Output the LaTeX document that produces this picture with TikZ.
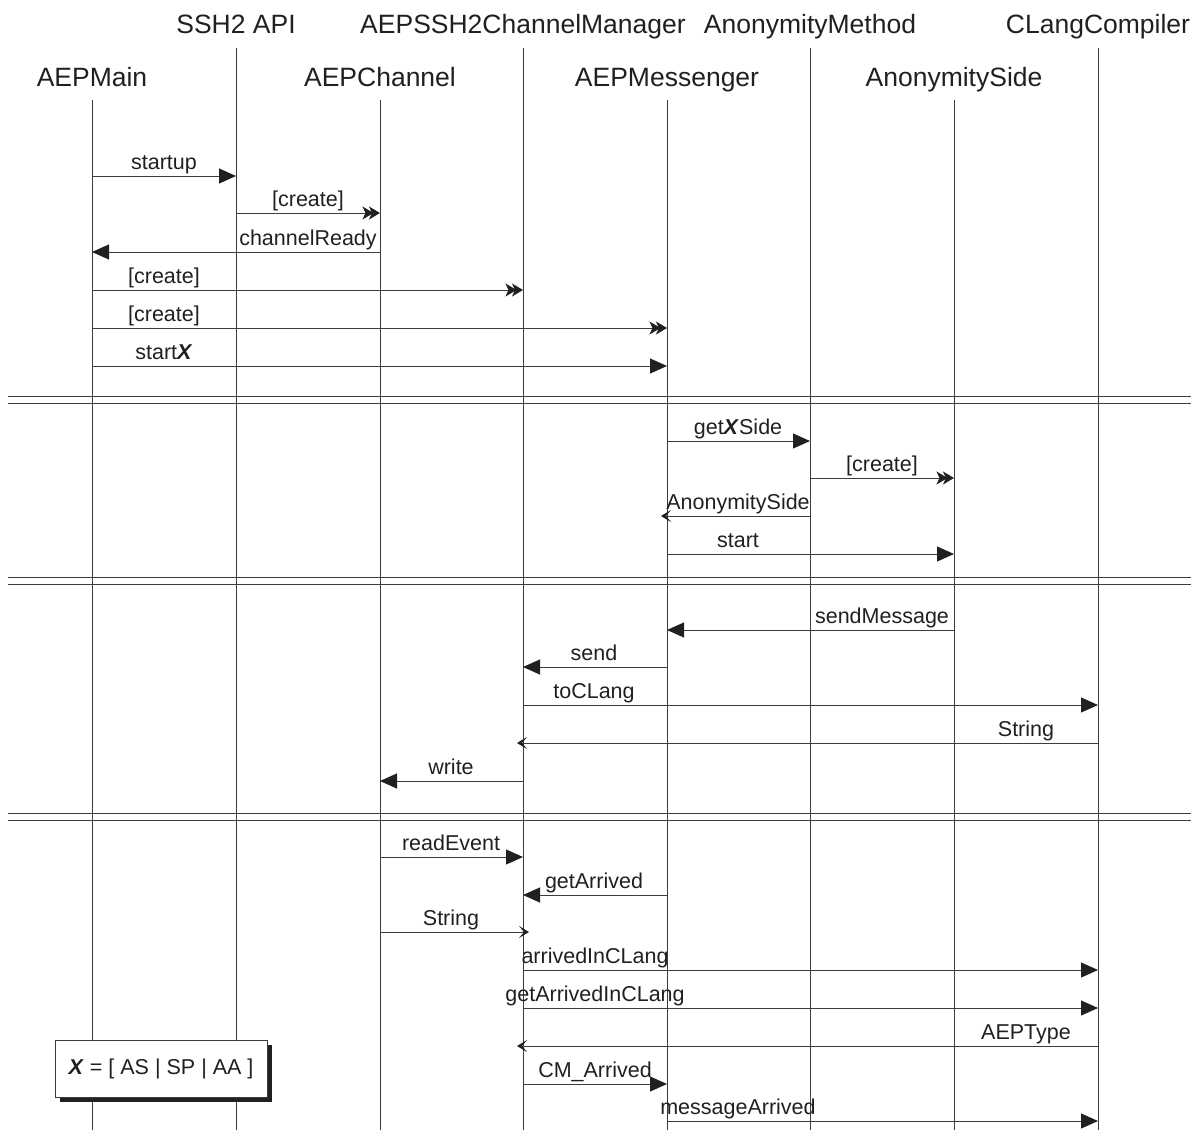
\documentclass[tikz,border=0pt]{standalone}
\usepackage{fontspec}
\setmainfont{Liberation Sans}
\usetikzlibrary{arrows.meta,shadows}
\definecolor{ink}{HTML}{231F20}
\definecolor{rule}{HTML}{3C3C3C}
\begin{document}
\begin{tikzpicture}[x=1pt,y=-1pt,
  head/.style={font=\fontsize{26.5}{30}\selectfont, text=ink, anchor=base, inner sep=0pt},
  lbl/.style={font=\fontsize{21.5}{25}\selectfont, text=ink, anchor=base, inner sep=0pt},
  life/.style={draw=rule, line width=1pt},
  msgline/.style={draw=rule, line width=1pt},
  sync/.style={msgline, -{Triangle[length=17pt,width=15pt,color=ink]}},
  create/.style={msgline, -{Stealth[length=11pt,width=13pt,inset=3pt,color=ink,sep=-4.5pt]Stealth[length=11pt,width=13pt,inset=3pt,color=ink]}},
  reply/.style={msgline, shorten >=-6pt, -{Stealth[length=10pt,width=12pt,inset=5pt,color=ink]}},
  divider/.style={draw=rule, line width=1pt},
  keybox/.style={draw=rule, line width=1pt, fill=white, minimum width=212pt, minimum height=57pt,
    font=\fontsize{21.5}{25}\selectfont, text=ink,
    drop shadow={shadow xshift=4.5pt, shadow yshift=-4.5pt, opacity=1, fill=ink}}]

\useasboundingbox (0,0) rectangle (1191,1130);

% ---- participants (two staggered rows) ----
\node[head] (main) at (92,86)   {AEPMain};
\node[head] (ssh)  at (236,33)  {SSH2 API};
\node[head] (chan) at (380,86)  {AEPChannel};
\node[head] (mgr)  at (523,33)  {AEPSSH2ChannelManager};
\node[head] (msg)  at (667,86)  {AEPMessenger};
\node[head] (meth) at (810,33)  {AnonymityMethod};
\node[head] (side) at (954,86)  {AnonymitySide};
\node[head] (cl)   at (1098,33) {CLangCompiler};

% ---- lifelines ----
\foreach \p in {main,chan,msg,side}
  \draw[life] (\p.base) ++(0,14) coordinate (\p top) -- (\p top |- 0,1130);
\foreach \p in {ssh,mgr,meth,cl}
  \draw[life] (\p.base) ++(0,15) coordinate (\p top) -- (\p top |- 0,1130);

% ---- phase dividers ----
\foreach \y in {396,403,577,584,813,820}
  \draw[divider] (8,\y) -- (1191,\y);

% ---- message rows ----
\foreach \n/\y in {r1/176,r2/213,r3/252,r4/290,r5/328,r6/366,
                   r7/441,r8/478,r9/516,r10/554,
                   r11/630,r12/667,r13/705,r14/743,r15/781,
                   r16/857,r17/895,r18/932,r19/970,r20/1008,r21/1046,r22/1084,r23/1121}
  \coordinate (\n) at (0,\y);

% set-up
\draw[sync]   (main |- r1) -- (ssh |- r1);
\node[lbl] (t1) at (164,169) {startup};
\draw[create] (ssh |- r2) -- (chan |- r2);
\node[lbl] (t2) at (308,206) {[create]};
\draw[sync]   (chan |- r3) -- (main |- r3);
\node[lbl] (t3) at (308,245) {channelReady};
\draw[create] (main |- r4) -- (mgr |- r4);
\node[lbl] (t4) at (164,283) {[create]};
\draw[create] (main |- r5) -- (msg |- r5);
\node[lbl] (t5) at (164,321) {[create]};
\draw[sync]   (main |- r6) -- (msg |- r6);
\node[lbl] (t6) at (164,359) {start\textbf{\textit{X}}};

% anonymity side
\draw[sync]   (msg |- r7) -- (meth |- r7);
\node[lbl] (t7) at (738,434) {get\textbf{\textit{X}}Side};
\draw[create] (meth |- r8) -- (side |- r8);
\node[lbl] (t8) at (882,471) {[create]};
\draw[reply]  (meth |- r9) -- (msg |- r9);
\node[lbl] (t9) at (738,509) {AnonymitySide};
\draw[sync]   (msg |- r10) -- (side |- r10);
\node[lbl] (t10) at (738,547) {start};

% sending
\draw[sync]   (side |- r11) -- (msg |- r11);
\node[lbl] (t11) at (882,623) {sendMessage};
\draw[sync]   (msg |- r12) -- (mgr |- r12);
\node[lbl] (t12) at (594,660) {send};
\draw[sync]   (mgr |- r13) -- (cl |- r13);
\node[lbl] (t13) at (594,698) {toCLang};
\draw[reply]  (cl |- r14) -- (mgr |- r14);
\node[lbl] (t14) at (1026,736) {String};
\draw[sync]   (mgr |- r15) -- (chan |- r15);
\node[lbl] (t15) at (451,774) {write};

% receiving
\draw[sync]   (chan |- r16) -- (mgr |- r16);
\node[lbl] (t16) at (451,850) {readEvent};
\draw[sync]   (msg |- r17) -- (mgr |- r17);
\node[lbl] (t17) at (594,888) {getArrived};
\draw[reply]  (chan |- r18) -- (mgr |- r18);
\node[lbl] (t18) at (451,925) {String};
\draw[sync]   (mgr |- r19) -- (cl |- r19);
\node[lbl] (t19) at (595,963) {arrivedInCLang};
\draw[sync]   (mgr |- r20) -- (cl |- r20);
\node[lbl] (t20) at (595,1001) {getArrivedInCLang};
\draw[reply]  (cl |- r21) -- (mgr |- r21);
\node[lbl] (t21) at (1026,1039) {AEPType};
\draw[sync]   (mgr |- r22) -- (msg |- r22);
\node[lbl] (t22) at (595,1077) {CM\_Arrived};
\draw[sync]   (msg |- r23) -- (cl |- r23);
\node[lbl] (t23) at (738,1114) {messageArrived};

% ---- key ----
\node[keybox] (key) at (161,1068.5) {\textbf{\textit{X}} = [ AS | SP | AA ]};
\end{tikzpicture}
\end{document}
